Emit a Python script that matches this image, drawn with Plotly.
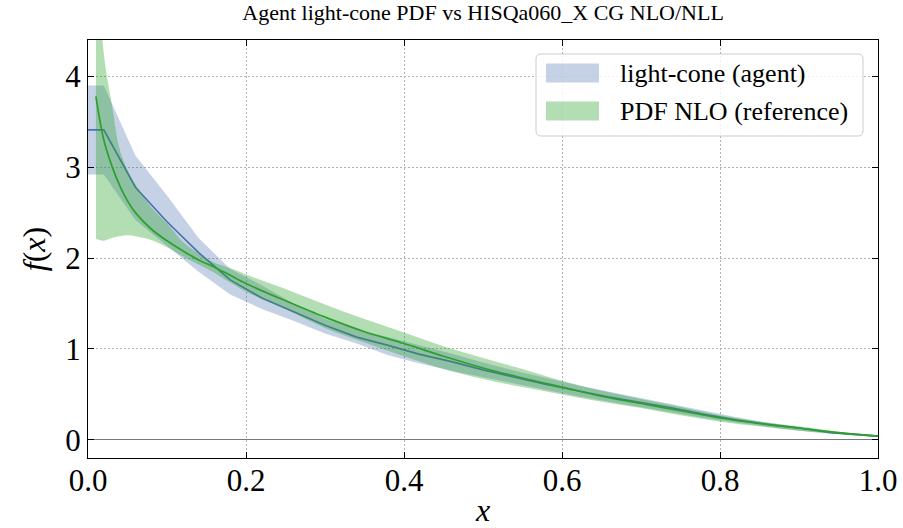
import plotly.graph_objects as go

# Agent light-cone (blue)
agent_x = [0.0, 0.02, 0.06, 0.10, 0.14, 0.18, 0.22, 0.26, 0.30, 0.34, 0.38, 0.42, 0.46, 0.50,
           0.54, 0.58, 0.62, 0.66, 0.70, 0.74, 0.78, 0.82, 0.86, 0.90, 0.94, 0.98, 1.0]
agent_mid = [3.41, 3.41, 2.78, 2.40, 2.06, 1.76, 1.56, 1.41, 1.26, 1.13, 1.04, 0.94, 0.86, 0.77,
             0.69, 0.61, 0.54, 0.47, 0.41, 0.35, 0.28, 0.22, 0.17, 0.13, 0.08, 0.05, 0.04]
agent_hi = [3.90, 3.90, 3.13, 2.69, 2.22, 1.88, 1.70, 1.50, 1.33, 1.22, 1.13, 1.04, 0.95, 0.85,
            0.76, 0.68, 0.60, 0.53, 0.46, 0.39, 0.32, 0.25, 0.19, 0.14, 0.09, 0.06, 0.05]
agent_lo = [2.92, 2.92, 2.42, 2.13, 1.85, 1.60, 1.44, 1.31, 1.17, 1.06, 0.93, 0.84, 0.76, 0.69,
            0.62, 0.55, 0.48, 0.42, 0.36, 0.30, 0.24, 0.19, 0.14, 0.10, 0.07, 0.04, 0.03]

# Reference PDF NLO (green)
ref_x = [0.01, 0.02, 0.03, 0.04, 0.05, 0.06, 0.08, 0.10, 0.12, 0.14, 0.16, 0.18, 0.20, 0.25,
         0.30, 0.35, 0.40, 0.45, 0.50, 0.55, 0.60, 0.65, 0.70, 0.75, 0.80, 0.85, 0.90, 0.95, 1.0]
ref_mid = [3.78, 3.30, 3.02, 2.80, 2.63, 2.50, 2.32, 2.19, 2.08, 1.98, 1.90, 1.81, 1.72, 1.53,
           1.35, 1.19, 1.06, 0.92, 0.79, 0.68, 0.58, 0.48, 0.40, 0.32, 0.24, 0.18, 0.13, 0.08, 0.04]
ref_hi = [5.60, 4.25, 3.70, 3.20, 2.97, 2.81, 2.56, 2.38, 2.18, 2.05, 1.95, 1.89, 1.82, 1.66,
          1.49, 1.33, 1.18, 1.03, 0.90, 0.78, 0.65, 0.54, 0.45, 0.36, 0.27, 0.20, 0.15, 0.09, 0.05]
ref_lo = [2.21, 2.19, 2.22, 2.24, 2.25, 2.24, 2.20, 2.12, 2.02, 1.93, 1.84, 1.73, 1.63, 1.44,
          1.23, 1.07, 0.92, 0.78, 0.67, 0.58, 0.50, 0.42, 0.35, 0.27, 0.20, 0.15, 0.10, 0.06, 0.03]

series_names = ["light-cone (agent)", "PDF NLO (reference)"]
x_ticks = [0.0, 0.2, 0.4, 0.6, 0.8, 1.0]
x_ticklabels = ["0.0", "0.2", "0.4", "0.6", "0.8", "1.0"]
y_ticks = [0, 1, 2, 3, 4]

BLUE = "rgb(76,114,176)"
BLUE_FILL = "rgba(76,114,176,0.32)"
GREEN = "rgb(44,160,44)"
GREEN_FILL = "rgba(44,160,44,0.36)"
FONT = "Liberation Serif, Times New Roman, serif"

fig = go.Figure()
fig.add_trace(go.Scatter(x=agent_x, y=agent_lo, mode="lines", line=dict(width=0, color=BLUE_FILL),
                         showlegend=False, hoverinfo="skip"))
fig.add_trace(go.Scatter(x=agent_x, y=agent_hi, mode="lines", line=dict(width=0, color=BLUE_FILL),
                         fill="tonexty", fillcolor=BLUE_FILL, name=series_names[0], showlegend=False))
fig.add_trace(go.Scatter(x=agent_x, y=agent_mid, mode="lines", line=dict(width=1.7, color=BLUE),
                         showlegend=False))
fig.add_trace(go.Scatter(x=ref_x, y=ref_lo, mode="lines", line=dict(width=0, color=GREEN_FILL, shape="spline"),
                         showlegend=False, hoverinfo="skip"))
fig.add_trace(go.Scatter(x=ref_x, y=ref_hi, mode="lines", line=dict(width=0, color=GREEN_FILL, shape="spline"),
                         fill="tonexty", fillcolor=GREEN_FILL, name=series_names[1], showlegend=False))
fig.add_trace(go.Scatter(x=ref_x, y=ref_mid, mode="lines", line=dict(width=1.7, color=GREEN, shape="spline"),
                         showlegend=False))

axis_common = dict(
    showline=True, linecolor="black", linewidth=1.2, mirror="ticks",
    ticks="inside", ticklen=6, tickwidth=1.2, tickcolor="black",
    showgrid=True, gridcolor="rgb(176,176,176)", griddash="1.5px,2.5px", gridwidth=1,
    tickfont=dict(family=FONT, size=31, color="black"),
    automargin=False,
)

fig.update_xaxes(range=[0, 1], tickvals=x_ticks, ticktext=x_ticklabels, zeroline=False,
                 ticklabelstandoff=-5,
                 title=dict(text="<i>x</i>", font=dict(family=FONT, size=32, color="black"), standoff=2),
                 **axis_common)
fig.update_yaxes(range=[-0.2, 4.4], tickvals=y_ticks, zeroline=True, zerolinecolor="rgb(120,120,120)",
                 zerolinewidth=1,
                 title=dict(text="<i>f</i>(<i>x</i>)", font=dict(family=FONT, size=32, color="black"), standoff=10),
                 **axis_common)

# manual legend (matplotlib-style patches)
def px2x(px):
    return (px - 88) / 790.0

def py2y(py):
    return (458 - py) / 418.0

bx0, bx1, by0, by1 = px2x(536), px2x(863), py2y(136), py2y(54)
rx, ry = 5 / 790.0, 5 / 418.0
box_path = (f"M{bx0+rx},{by0} L{bx1-rx},{by0} Q{bx1},{by0} {bx1},{by0+ry} L{bx1},{by1-ry} "
            f"Q{bx1},{by1} {bx1-rx},{by1} L{bx0+rx},{by1} Q{bx0},{by1} {bx0},{by1-ry} "
            f"L{bx0},{by0+ry} Q{bx0},{by0} {bx0+rx},{by0} Z")
shapes = [dict(type="path", path=box_path, xref="paper", yref="paper", layer="above",
               fillcolor="rgba(255,255,255,0.85)", line=dict(color="rgb(204,204,204)", width=1))]
annotations = []
swatch_rows = [(63.5, 82.5), (101.5, 120.5)]
fills = [BLUE_FILL, GREEN_FILL]
for (t, b), fc, name in zip(swatch_rows, fills, series_names):
    shapes.append(dict(type="rect", xref="paper", yref="paper", layer="above",
                       x0=px2x(546), x1=px2x(599), y0=py2y(b), y1=py2y(t),
                       fillcolor=fc, line=dict(width=0)))
    annotations.append(dict(text=name, xref="paper", yref="paper", x=px2x(618), y=py2y((t + b) / 2),
                            xanchor="left", yanchor="middle", showarrow=False,
                            font=dict(family=FONT, size=26, color="black")))

fig.update_layout(
    width=903, height=528,
    margin=dict(l=88, r=25, t=40, b=70),
    paper_bgcolor="white", plot_bgcolor="white",
    title=dict(text="Agent light-cone PDF vs HISQa060_X CG NLO/NLL", x=0.535, xanchor="center",
               y=0.992, yanchor="top", font=dict(family=FONT, size=22, color="black")),
    shapes=shapes, annotations=annotations,
    showlegend=False,
)

fig.write_html("out.html")
